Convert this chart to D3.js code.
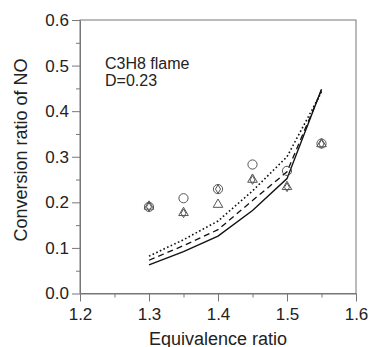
<!DOCTYPE html>
<html>
<head>
<meta charset="utf-8">
<script src="https://cdn.jsdelivr.net/npm/d3@7"></script>
<style>
  body { margin: 0; background: #fff; }
  text { font-family: "Liberation Sans", Arial, sans-serif; fill: #222; }
</style>
</head>
<body>
<div id="chart"></div>
<script>
// Equivalence ratio values
var phi = [1.3, 1.35, 1.4, 1.45, 1.5, 1.55];

// Measured points (three marker types)
var circles   = [0.190, 0.209, 0.229, 0.283, 0.269, 0.329];
var triangles = [0.190, 0.176, 0.194, 0.249, 0.233, 0.327];
var diamonds  = [0.190, 0.176, 0.229, 0.249, 0.233, 0.328];

// Calculated curves
var solid  = [0.063, 0.092, 0.126, 0.182, 0.252, 0.448];
var dashed = [0.073, 0.105, 0.140, 0.204, 0.267, 0.446];
var dotted = [0.082, 0.118, 0.159, 0.225, 0.300, 0.442];

var xTicks = [1.2, 1.3, 1.4, 1.5, 1.6];
var yTicks = [0.0, 0.1, 0.2, 0.3, 0.4, 0.5, 0.6];

var margin = { top: 20, right: 16, bottom: 53.5, left: 80 },
  width = 372 - margin.left - margin.right,
  height = 347 - margin.top - margin.bottom;

var svg = d3.select("#chart")
  .append("svg")
  .attr("width", 372)
  .attr("height", 347)
  .append("g")
  .attr("transform", "translate(" + margin.left + "," + margin.top + ")");

var xScale = d3.scaleLinear().domain([1.2, 1.6]).range([0, width]);
var yScale = d3.scaleLinear().domain([0, 0.6]).range([height, 0]);

var axisColor = "#777";

// Frame
svg.append("rect")
  .attr("width", width)
  .attr("height", height)
  .attr("fill", "none")
  .attr("stroke", axisColor)
  .attr("stroke-width", 1);

// Minor ticks
var xMinor = d3.range(1.25, 1.6, 0.1);
var yMinor = d3.range(0.05, 0.6, 0.1);

svg.append("g")
  .attr("transform", "translate(0," + height + ")")
  .call(d3.axisBottom(xScale).tickValues(xMinor).tickSize(4).tickFormat(""))
  .call(function(g) { g.select(".domain").remove(); })
  .selectAll("line").attr("stroke", axisColor);

svg.append("g")
  .call(d3.axisLeft(yScale).tickValues(yMinor).tickSize(4).tickFormat(""))
  .call(function(g) { g.select(".domain").remove(); })
  .selectAll("line").attr("stroke", axisColor);

// Major axes
var xAxis = svg.append("g")
  .attr("transform", "translate(0," + height + ")")
  .call(d3.axisBottom(xScale).tickValues(xTicks).tickSize(8).tickSizeOuter(0).tickPadding(6).tickFormat(d3.format(".1f")));
xAxis.select(".domain").attr("stroke", axisColor);
xAxis.selectAll("line").attr("stroke", axisColor);
xAxis.selectAll("text").style("font-size", "17px").style("fill", "#222")
  .attr("font-family", "Liberation Sans, Arial, sans-serif");

var yAxis = svg.append("g")
  .call(d3.axisLeft(yScale).tickValues(yTicks).tickSize(8).tickSizeOuter(0).tickPadding(3).tickFormat(d3.format(".1f")));
yAxis.select(".domain").attr("stroke", axisColor);
yAxis.selectAll("line").attr("stroke", axisColor);
yAxis.selectAll("text").style("font-size", "17px").style("fill", "#222")
  .attr("font-family", "Liberation Sans, Arial, sans-serif");

// Lines
var lineGen = function(vals) {
  return d3.line()
    .x(function(d, i) { return xScale(phi[i]); })
    .y(function(d) { return yScale(d); })(vals);
};

svg.append("path").attr("d", lineGen(solid))
  .attr("fill", "none").attr("stroke", "#111").attr("stroke-width", 1.4);
svg.append("path").attr("d", lineGen(dashed))
  .attr("fill", "none").attr("stroke", "#111").attr("stroke-width", 1.3)
  .attr("stroke-dasharray", "6,4");
svg.append("path").attr("d", lineGen(dotted))
  .attr("fill", "none").attr("stroke", "#111").attr("stroke-width", 1.6)
  .attr("stroke-dasharray", "1.6,2.4");

// Markers
var markColor = "#555";

svg.selectAll(".circ")
  .data(circles)
  .enter()
  .append("circle")
  .attr("class", "circ")
  .attr("cx", function(d, i) { return xScale(phi[i]); })
  .attr("cy", function(d) { return yScale(d); })
  .attr("r", 4.6)
  .attr("fill", "none")
  .attr("stroke", markColor)
  .attr("stroke-width", 1);

var triSym = d3.symbol().type(d3.symbolTriangle).size(40);
svg.selectAll(".tri")
  .data(triangles)
  .enter()
  .append("path")
  .attr("class", "tri")
  .attr("d", triSym)
  .attr("transform", function(d, i) { return "translate(" + xScale(phi[i]) + "," + (yScale(d) - 0.5) + ")"; })
  .attr("fill", "none")
  .attr("stroke", markColor)
  .attr("stroke-width", 1);

var diaSym = d3.symbol().type(d3.symbolDiamond).size(22);
svg.selectAll(".dia")
  .data(diamonds)
  .enter()
  .append("path")
  .attr("class", "dia")
  .attr("d", diaSym)
  .attr("transform", function(d, i) { return "translate(" + xScale(phi[i]) + "," + yScale(d) + ")"; })
  .attr("fill", "none")
  .attr("stroke", markColor)
  .attr("stroke-width", 1);

// Annotation
svg.append("text")
  .attr("x", 25)
  .attr("y", 48.5)
  .style("font-size", "16px")
  .text("C3H8 flame");
svg.append("text")
  .attr("x", 25)
  .attr("y", 66)
  .style("font-size", "16px")
  .text("D=0.23");

// Axis labels
svg.append("text")
  .attr("x", width / 2)
  .attr("y", height + 51)
  .attr("text-anchor", "middle")
  .style("font-size", "18px")
  .text("Equivalence ratio");

svg.append("text")
  .attr("transform", "rotate(-90)")
  .attr("x", -130)
  .attr("y", -53)
  .attr("text-anchor", "middle")
  .style("font-size", "18px")
  .text("Conversion ratio of NO");
</script>
</body>
</html>
